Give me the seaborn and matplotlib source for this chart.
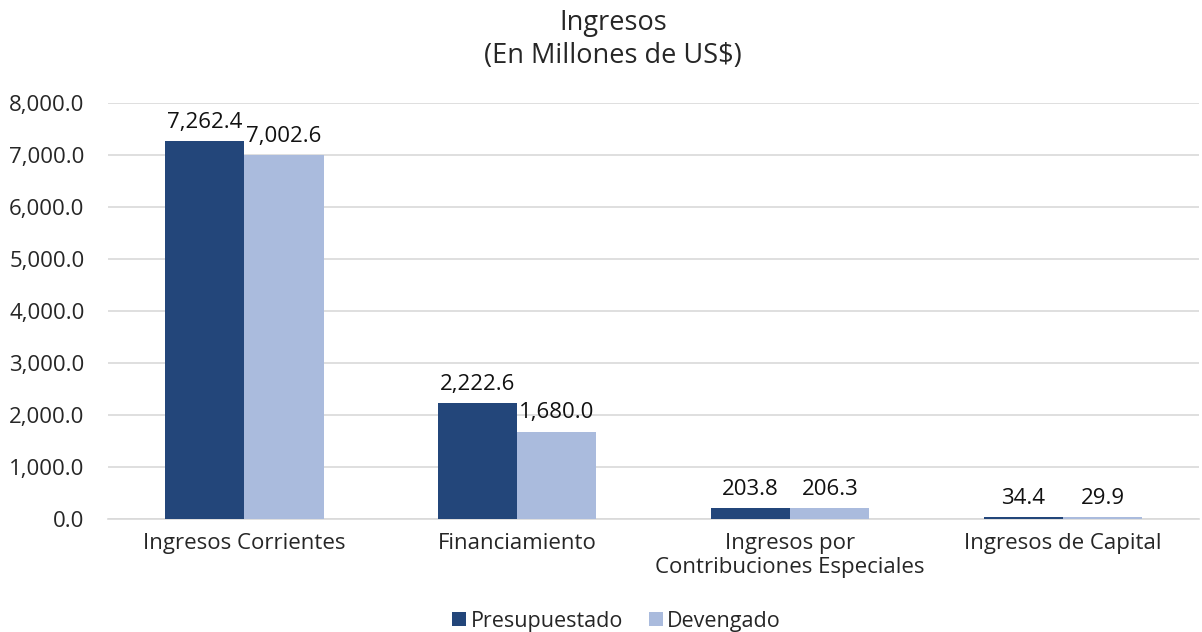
import pandas as pd
import numpy as np
import matplotlib.pyplot as plt
import seaborn as sns

# data
categorias = ['Ingresos Corrientes', 'Financiamiento',
              'Ingresos por\nContribuciones Especiales', 'Ingresos de Capital']
presupuestado = [7262.4, 2222.6, 203.8, 34.4]
devengado = [7002.6, 1680.0, 206.3, 29.9]
series = ['Presupuestado', 'Devengado']
colores = ['#23467A', '#AABBDD']

df = pd.DataFrame({
    'categoria': categorias * 2,
    'valor': presupuestado + devengado,
    'serie': [series[0]] * len(categorias) + [series[1]] * len(categorias),
})

sns.set_style('white')
plt.rcParams['font.family'] = ['Open Sans', 'DejaVu Sans']

fig = plt.figure(figsize=(12.02, 6.32), dpi=100)
ax = fig.add_axes([0.0899, 0.1788, 0.908, 0.658])

sns.barplot(data=df, x='categoria', y='valor', hue='serie', order=categorias,
            hue_order=series, palette=colores, width=0.58, saturation=1,
            linewidth=0, ax=ax, zorder=3)

for cont in ax.containers:
    ax.bar_label(cont, labels=[f'{v:,.1f}' for v in cont.datavalues],
                 padding=6, fontsize=16, color='#111111')

ax.set_ylim(0, 8000)
ax.set_xlim(-0.5, 3.5)
ax.set_yticks(np.arange(0, 8001, 1000))
ax.set_yticklabels([f'{v:,.1f}' for v in np.arange(0, 8001, 1000)], fontsize=16)
ax.tick_params(axis='x', labelsize=16, length=0, pad=10)
ax.tick_params(axis='y', length=0, pad=17)
ax.yaxis.grid(True, color='#D9D9D9', linewidth=1.2, zorder=0)
ax.set_xlabel('')
ax.set_ylabel('')
for s in ['top', 'right', 'left']:
    ax.spines[s].set_visible(False)
ax.spines['bottom'].set_color('#D9D9D9')
ax.spines['bottom'].set_linewidth(1.2)

ax.legend(loc='lower center', bbox_to_anchor=(0.466, -0.318), ncol=2,
          frameon=False, fontsize=15.5, handlelength=0.65, handleheight=0.65,
          handletextpad=0.2, columnspacing=1.2)

fig.suptitle('Ingresos\n(En Millones de US$)', fontsize=19.5, y=0.985,
             x=0.51, linespacing=1.2)

fig.savefig('out.png', dpi=100)
